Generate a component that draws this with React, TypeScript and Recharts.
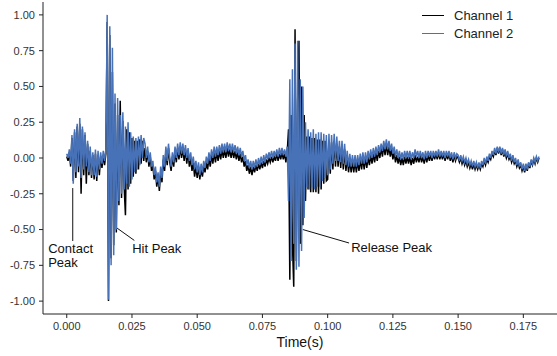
import React from 'react';
import {
  LineChart,
  Line,
  XAxis,
  YAxis,
  ReferenceLine,
  ReferenceDot,
} from 'recharts';

// samples are 0.5 ms apart, starting at t = 0
const SAMPLE_STEP = 0.0005;

// Channel 1 (black), one row per 10 ms
const channel1 = [
  0.01, -0.02, 0.04, -0.06, 0.14, -0.16, 0.18, -0.14, 0.22, -0.1, 0.24, -0.25, 0.2, -0.12, 0.16, -0.18, 0.1, -0.12, 0.05, -0.14,
  0.02, -0.15, 0.03, -0.16, 0.02, -0.12, 0.01, -0.07, 0.02, -0.05, 0.03, 0.95, -1.0, 0.86, -0.7, 0.6, -0.61, 0.38, -0.52, 0.3,
  -0.33, 0.4, -0.28, 0.26, -0.2, -0.4, 0.2, -0.22, 0.18, -0.18, 0.14, -0.13, 0.12, -0.11, 0.12, -0.08, 0.13, -0.04, 0.12, -0.02,
  0.07, -0.03, 0.05, -0.06, 0.01, -0.09, -0.05, -0.15, -0.09, -0.2, -0.13, -0.23, -0.09, -0.17, -0.01, -0.09, 0.05, -0.05, 0.07, -0.03,
  -0.09, 0.01, -0.06, 0.05, -0.03, 0.07, -0.01, 0.08, 0.0, 0.07, -0.02, 0.06, -0.04, 0.04, -0.06, 0.0, -0.09, -0.03, -0.13, -0.06,
  -0.14, -0.06, -0.15, -0.08, -0.13, -0.06, -0.1, -0.03, -0.08, 0.0, -0.06, 0.02, -0.04, 0.04, -0.03, 0.04, -0.02, 0.05, -0.01, 0.06,
  0.0, 0.06, 0.0, 0.07, 0.01, 0.06, 0.0, 0.06, 0.0, 0.05, -0.01, 0.04, -0.02, 0.03, -0.03, 0.01, -0.06, -0.02, -0.09, -0.05,
  -0.11, -0.06, -0.12, -0.06, -0.1, -0.05, -0.09, -0.04, -0.08, -0.03, -0.07, -0.02, -0.06, -0.01, -0.04, 0.0, -0.03, 0.01, -0.03, 0.01,
  -0.02, 0.03, -0.02, 0.03, -0.01, 0.04, -0.01, 0.03, -0.03, 0.04, 0.2, -0.85, 0.3, -0.6, -0.9, 0.9, -0.72, 0.4, 0.82, -0.6,
  0.5, -0.47, 0.3, -0.3, 0.15, -0.22, 0.15, -0.24, 0.14, -0.24, 0.14, -0.24, 0.13, -0.25, 0.13, -0.22, 0.12, -0.18, 0.12, -0.16,
  -0.15, 0.12, -0.11, 0.11, -0.08, 0.12, -0.06, 0.1, -0.06, 0.08, -0.07, 0.08, -0.08, 0.06, -0.09, 0.01, -0.1, -0.01, -0.1, -0.02,
  -0.1, -0.02, -0.1, -0.02, -0.09, -0.01, -0.08, 0.0, -0.08, 0.0, -0.07, 0.01, -0.05, 0.02, -0.04, 0.03, -0.03, 0.04, -0.02, 0.05,
  0.0, 0.07, 0.01, 0.09, 0.02, 0.1, 0.02, 0.08, 0.01, 0.06, -0.01, 0.04, -0.03, 0.02, -0.04, 0.01, -0.05, 0.0, -0.05, 0.01,
  -0.04, 0.01, -0.04, 0.01, -0.05, 0.0, -0.04, 0.02, -0.03, 0.01, -0.03, 0.02, -0.03, 0.01, -0.04, 0.02, -0.03, 0.02, -0.02, 0.02,
  -0.02, 0.03, -0.01, 0.03, -0.01, 0.04, -0.01, 0.03, -0.01, 0.03, -0.02, 0.03, -0.01, 0.03, -0.02, 0.02, -0.03, 0.02, -0.02, 0.01,
  0.0, -0.03, 0.0, -0.04, -0.01, -0.05, -0.02, -0.06, -0.03, -0.07, -0.04, -0.08, -0.04, -0.08, -0.05, -0.08, -0.05, -0.08, -0.04, -0.06,
  -0.02, -0.05, -0.01, -0.03, 0.01, -0.01, 0.03, 0.01, 0.05, 0.02, 0.07, 0.03, 0.07, 0.02, 0.06, 0.01, 0.04, 0.0, 0.03, -0.01,
  0.01, -0.03, 0.0, -0.04, -0.02, -0.06, -0.03, -0.07, -0.05, -0.09, -0.06, -0.1, -0.05, -0.09, -0.04, -0.07, -0.02, -0.05, -0.01, -0.04,
  0.0, -0.03, 0.0,
];

// Channel 2 (blue)
const channel2 = [
  0.03, 0.0, 0.06, -0.04, 0.16, -0.18, 0.2, -0.1, 0.24, -0.06, 0.28, -0.14, 0.22, -0.08, 0.18, -0.06, 0.12, -0.1, 0.08, -0.12,
  0.04, -0.12, 0.06, -0.13, 0.05, -0.08, 0.04, -0.04, 0.05, -0.02, 0.06, 1.0, -0.99, 0.92, -0.75, 0.77, -0.68, 0.45, -0.5, 0.42,
  -0.3, 0.3, -0.25, 0.32, -0.22, 0.22, -0.18, 0.25, -0.2, 0.18, -0.15, 0.15, -0.1, 0.14, -0.08, 0.15, -0.05, 0.16, 0.0, 0.14,
  0.1, 0.0, 0.08, -0.03, 0.04, -0.06, -0.02, -0.12, -0.06, -0.17, -0.1, -0.2, -0.06, -0.14, 0.02, -0.06, 0.08, -0.02, 0.1, 0.0,
  -0.06, 0.04, -0.03, 0.08, 0.0, 0.1, 0.02, 0.11, 0.03, 0.1, 0.02, 0.09, 0.0, 0.07, -0.02, 0.04, -0.05, 0.01, -0.08, -0.02,
  -0.1, -0.03, -0.12, -0.04, -0.1, -0.02, -0.07, 0.01, -0.04, 0.04, -0.02, 0.06, 0.0, 0.08, 0.01, 0.08, 0.02, 0.09, 0.03, 0.1,
  0.04, 0.1, 0.04, 0.11, 0.05, 0.1, 0.04, 0.1, 0.04, 0.09, 0.03, 0.08, 0.02, 0.07, 0.01, 0.05, -0.02, 0.02, -0.05, -0.01,
  -0.07, -0.02, -0.08, -0.02, -0.07, -0.01, -0.06, 0.0, -0.05, 0.01, -0.04, 0.02, -0.03, 0.03, -0.01, 0.04, 0.0, 0.05, 0.0, 0.05,
  0.01, 0.06, 0.01, 0.07, 0.02, 0.07, 0.02, 0.06, 0.01, 0.08, -0.3, 0.55, -0.72, 0.62, -0.6, 0.8, -0.78, 0.82, -0.76, 0.55,
  -0.65, 0.5, -0.42, 0.25, -0.2, 0.2, -0.22, 0.18, -0.2, 0.2, -0.22, 0.17, -0.2, 0.18, -0.2, 0.18, -0.16, 0.17, -0.14, 0.16,
  -0.12, 0.17, -0.08, 0.16, -0.04, 0.17, -0.02, 0.15, -0.02, 0.12, -0.03, 0.12, -0.04, 0.1, -0.05, 0.05, -0.06, 0.03, -0.06, 0.02,
  -0.06, 0.02, -0.06, 0.02, -0.05, 0.03, -0.04, 0.04, -0.04, 0.04, -0.03, 0.05, -0.01, 0.06, 0.0, 0.07, 0.01, 0.08, 0.02, 0.09,
  0.04, 0.1, 0.05, 0.12, 0.06, 0.13, 0.06, 0.12, 0.05, 0.1, 0.03, 0.08, 0.01, 0.06, 0.0, 0.05, -0.01, 0.04, -0.01, 0.05,
  0.0, 0.05, 0.0, 0.05, -0.01, 0.04, 0.0, 0.06, 0.01, 0.05, 0.0, 0.05, 0.0, 0.04, -0.01, 0.05, 0.0, 0.05, 0.01, 0.05,
  0.0, 0.05, 0.01, 0.05, 0.01, 0.06, 0.01, 0.05, 0.01, 0.05, 0.0, 0.05, 0.01, 0.05, 0.0, 0.04, -0.01, 0.04, 0.0, 0.03,
  0.02, -0.02, 0.02, -0.02, 0.01, -0.03, 0.0, -0.04, -0.01, -0.05, -0.02, -0.06, -0.02, -0.06, -0.03, -0.07, -0.03, -0.07, -0.02, -0.05,
  0.0, -0.04, 0.01, -0.02, 0.03, 0.0, 0.05, 0.02, 0.07, 0.03, 0.08, 0.04, 0.08, 0.03, 0.07, 0.02, 0.06, 0.01, 0.05, 0.0,
  0.03, -0.02, 0.02, -0.03, 0.0, -0.05, -0.01, -0.06, -0.03, -0.08, -0.04, -0.09, -0.04, -0.08, -0.03, -0.06, -0.01, -0.04, 0.0, -0.03,
  0.01, -0.02, 0.01,
];

const xTicks = [0, 0.025, 0.05, 0.075, 0.1, 0.125, 0.15, 0.175];
const yTicks = [-1, -0.75, -0.5, -0.25, 0, 0.25, 0.5, 0.75, 1];

const seriesNames = ['Channel 1', 'Channel 2'];
const seriesColors = ['#000000', '#4872B8'];

// annotation leader lines [t1, v1, t2, v2] and label anchors [text, t, v]
const leaderLines = [
  [0.0023, -0.21, 0.0023, -0.58],
  [0.0193, -0.49, 0.0259, -0.576],
  [0.0905, -0.5, 0.1082, -0.594],
];
const peakLabels: [string, number, number][] = [
  ['Contact', -0.0071, -0.632],
  ['Peak', -0.0071, -0.727],
  ['Hit Peak', 0.0251, -0.629],
  ['Release Peak', 0.109, -0.622],
];

const data = channel1.map((v, i) => ({
  t: i * SAMPLE_STEP,
  ch1: v,
  ch2: channel2[i],
}));

const FONT = '"Liberation Sans", Arial, sans-serif';
const AXIS = '#222';

const ChartLegend = () => (
  <div style={{ position: 'absolute', left: 422, top: 6, fontFamily: FONT, fontSize: 13, color: '#222' }}>
    {seriesNames.map((name, i) => (
      <div key={name} style={{ display: 'flex', alignItems: 'center', height: 18 }}>
        <div style={{ width: 22, height: 0, borderTop: `1.5px solid ${seriesColors[i]}`, marginRight: 10 }} />
        <span>{name}</span>
      </div>
    ))}
  </div>
);

export default function App() {
  return (
    <div style={{ position: 'absolute', left: 0, top: 0, width: 557, height: 356, background: '#fff', fontFamily: FONT }}>
      <LineChart width={557} height={356} data={data} margin={{ top: 2, right: 0, bottom: 0, left: 0 }}>
        <XAxis
          dataKey="t"
          type="number"
          domain={[-0.0091, 0.1879]}
          allowDataOverflow
          ticks={xTicks}
          tickFormatter={(v: number) => v.toFixed(3)}
          height={42}
          tickSize={4}
          tickMargin={4}
          stroke={AXIS}
          tick={{ fill: '#333', fontSize: 11, fontFamily: FONT }}
          label={{ value: 'Time(s)', position: 'insideBottom', offset: 9, fill: '#111', fontSize: 14, fontFamily: FONT }}
        />
        <YAxis
          type="number"
          domain={[-1.09, 1.09]}
          allowDataOverflow
          ticks={yTicks}
          tickFormatter={(v: number) => v.toFixed(2)}
          width={43}
          tickSize={4}
          tickMargin={4}
          stroke={AXIS}
          tick={{ fill: '#333', fontSize: 11, fontFamily: FONT }}
        />
        <Line
          dataKey="ch1"
          name={seriesNames[0]}
          stroke={seriesColors[0]}
          strokeWidth={1.5}
          dot={false}
          type="linear"
          isAnimationActive={false}
        />
        <Line
          dataKey="ch2"
          name={seriesNames[1]}
          stroke={seriesColors[1]}
          strokeWidth={1.5}
          dot={false}
          type="linear"
          isAnimationActive={false}
        />
        {leaderLines.map((s, i) => (
          <ReferenceLine
            key={`lead-${i}`}
            segment={[{ x: s[0], y: s[1] }, { x: s[2], y: s[3] }]}
            stroke="#111"
            strokeWidth={1}
          />
        ))}
        {peakLabels.map(([text, t, v]) => (
          <ReferenceDot
            key={text}
            x={t}
            y={v}
            r={0}
            fill="none"
            stroke="none"
            label={{ value: text, position: 'right', offset: 0, fill: '#111', fontSize: 13, fontFamily: FONT }}
          />
        ))}
      </LineChart>
      <ChartLegend />
    </div>
  );
}
